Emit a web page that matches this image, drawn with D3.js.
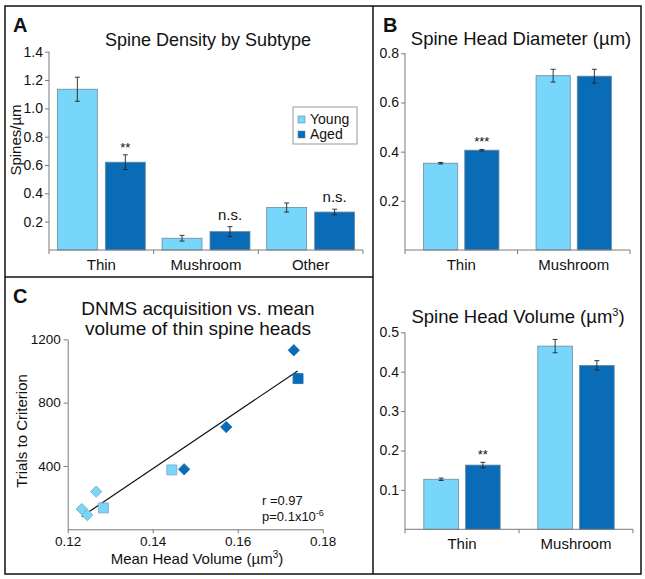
<!DOCTYPE html>
<html>
<head>
<meta charset="utf-8">
<script src="https://cdn.jsdelivr.net/npm/d3@7"></script>
<style>
  body { margin: 0; background: #fff; }
  svg text { font-family: "Liberation Sans", Arial, sans-serif; fill: #111; }
</style>
</head>
<body>
<svg id="chart" width="645" height="579"></svg>
<script>
// ---- data ----
var series = ["Young", "Aged"];
var colors = ["#78d6fa", "#0a6cb7"];

var densityCats = ["Thin", "Mushroom", "Other"];
var densityYoung = [1.135, 0.083, 0.30];
var densityAged = [0.62, 0.13, 0.268];
var densityYoungErr = [0.085, 0.02, 0.032];
var densityAgedErr = [0.052, 0.035, 0.02];
var densitySigAged = ["**", "n.s.", "n.s."];
var densityTicks = [0.2, 0.4, 0.6, 0.8, 1.0, 1.2, 1.4];

var headCats = ["Thin", "Mushroom"];
var diamYoung = [0.353, 0.709];
var diamAged = [0.406, 0.707];
var diamYoungErr = [0.003, 0.026];
var diamAgedErr = [0.003, 0.028];
var diamSigAged = ["***", ""];
var diamTicks = [0.2, 0.4, 0.6, 0.8];

var volYoung = [0.127, 0.465];
var volAged = [0.163, 0.416];
var volYoungErr = [0.003, 0.017];
var volAgedErr = [0.007, 0.012];
var volSigAged = ["**", ""];
var volTicks = [0.1, 0.2, 0.3, 0.4, 0.5];

// scatter: mean head volume vs trials to criterion
var youngDiamonds = [[0.1233, 128], [0.1246, 90], [0.1267, 238]];
var youngSquares = [[0.1284, 135], [0.1445, 375]];
var agedDiamonds = [[0.1474, 379], [0.1573, 646], [0.1732, 1131]];
var agedSquares = [[0.1742, 952]];
var fitLine = [[0.1233, 80], [0.1741, 1000]];
var scatterXTicks = [0.12, 0.14, 0.16, 0.18];
var scatterYTicks = [400, 800, 1200];

var svg = d3.select("#chart");
var axisColor = "#7a7a7a";

// frame and dividers
svg.append("rect").attr("x", 5).attr("y", 6).attr("width", 636).attr("height", 568)
  .attr("fill", "none").attr("stroke", "#111").attr("stroke-width", 1.5);
svg.append("line").attr("x1", 373).attr("x2", 373).attr("y1", 6).attr("y2", 574)
  .attr("stroke", "#111").attr("stroke-width", 1.5);
svg.append("line").attr("x1", 5).attr("x2", 373).attr("y1", 277).attr("y2", 277)
  .attr("stroke", "#111").attr("stroke-width", 1.5);

// panel letters
[["A", 13, 32], ["B", 383, 32], ["C", 13, 303]].forEach(function(p) {
  svg.append("text").attr("x", p[1]).attr("y", p[2]).text(p[0])
    .style("font-size", "20px").style("font-weight", "bold");
});

function styleAxis(g) {
  g.selectAll("path, line").attr("stroke", axisColor);
}

// generic grouped bar chart
function barChart(opt) {
  var g = svg.append("g");
  var x0 = d3.scaleBand().domain(opt.cats).range([opt.left, opt.right])
    .paddingInner(opt.padCat).paddingOuter(opt.padCat / 2);
  var x1 = d3.scaleBand().domain(series).range([0, x0.bandwidth()]).paddingInner(opt.padBar);
  var y = d3.scaleLinear().domain([0, opt.max]).range([opt.bottom, opt.top]);

  var rows = [];
  opt.cats.forEach(function(c, i) {
    rows.push({cat: c, s: "Young", v: opt.young[i], e: opt.youngErr[i], sig: ""});
    rows.push({cat: c, s: "Aged", v: opt.aged[i], e: opt.agedErr[i], sig: opt.sig[i]});
  });

  g.selectAll(".bar").data(rows).enter().append("rect")
    .attr("x", d => x0(d.cat) + x1(d.s))
    .attr("y", d => y(d.v))
    .attr("width", x1.bandwidth())
    .attr("height", d => y(0) - y(d.v))
    .attr("fill", d => colors[series.indexOf(d.s)])
    .attr("stroke", "#6f8a99").attr("stroke-width", 0.8);

  // error bars
  var eb = g.selectAll(".err").data(rows).enter().append("g")
    .attr("transform", d => `translate(${x0(d.cat) + x1(d.s) + x1.bandwidth() / 2},0)`);
  eb.append("line").attr("y1", d => y(d.v - d.e)).attr("y2", d => y(d.v + d.e))
    .attr("stroke", "#222").attr("stroke-width", 0.9);
  eb.append("line").attr("x1", -2.5).attr("x2", 2.5).attr("y1", d => y(d.v + d.e)).attr("y2", d => y(d.v + d.e))
    .attr("stroke", "#222").attr("stroke-width", 0.9);
  eb.append("line").attr("x1", -2.5).attr("x2", 2.5).attr("y1", d => y(d.v - d.e)).attr("y2", d => y(d.v - d.e))
    .attr("stroke", "#222").attr("stroke-width", 0.9);
  eb.filter(d => d.sig).append("text")
    .attr("y", d => y(d.v + d.e) - (d.sig === "n.s." ? 7 : 3))
    .attr("text-anchor", "middle")
    .style("font-size", d => d.sig === "n.s." ? "15px" : "13px")
    .text(d => d.sig);

  // axes
  var yAxis = g.append("g").attr("transform", `translate(${opt.left},0)`)
    .call(d3.axisLeft(y).tickValues(opt.ticks).tickSize(4).tickPadding(2).tickSizeOuter(0).tickFormat(d3.format(".1f")));
  styleAxis(yAxis);
  yAxis.select(".domain").attr("d", `M0,${opt.bottom}V${opt.top}`);
  yAxis.selectAll("text").style("font-size", "14px");

  var xAxis = g.append("g").attr("transform", `translate(0,${opt.bottom})`);
  xAxis.append("line").attr("x1", opt.left).attr("x2", opt.right).attr("stroke", axisColor);
  var bounds = opt.cats.map(c => x0(c) - x0.step() * opt.padCat / 2).concat([opt.right]);
  xAxis.selectAll(".tk").data(bounds).enter().append("line")
    .attr("x1", d => d).attr("x2", d => d).attr("y1", 0).attr("y2", 4).attr("stroke", axisColor);
  xAxis.selectAll(".lbl").data(opt.cats).enter().append("text")
    .attr("x", d => x0(d) + x0.bandwidth() / 2).attr("y", 20)
    .attr("text-anchor", "middle").style("font-size", "15px").text(d => d);
  return g;
}

// Panel A
var gA = barChart({
  cats: densityCats, young: densityYoung, aged: densityAged,
  youngErr: densityYoungErr, agedErr: densityAgedErr, sig: densitySigAged,
  ticks: densityTicks, max: 1.4, left: 49, right: 363, top: 51.7, bottom: 250,
  padCat: 0.16, padBar: 0.167
});
gA.append("text").attr("x", 208).attr("y", 46).attr("text-anchor", "middle")
  .style("font-size", "18px").text("Spine Density by Subtype");
gA.append("text").attr("transform", "translate(21,140) rotate(-90)").attr("text-anchor", "middle")
  .style("font-size", "15px").text("Spines/µm");

// legend
var leg = gA.append("g").attr("transform", "translate(293,107)");
leg.append("rect").attr("width", 64).attr("height", 37).attr("fill", "#fff")
  .attr("stroke", "#999").attr("stroke-width", 1);
series.forEach(function(s, i) {
  leg.append("rect").attr("x", 5).attr("y", 9 + i * 15).attr("width", 7).attr("height", 7)
    .attr("fill", colors[i]).attr("stroke", "#6f8a99").attr("stroke-width", 0.6);
  leg.append("text").attr("x", 17).attr("y", 17 + i * 15).style("font-size", "14px").text(s);
});

// Panel B top
var gD = barChart({
  cats: headCats, young: diamYoung, aged: diamAged,
  youngErr: diamYoungErr, agedErr: diamAgedErr, sig: diamSigAged,
  ticks: diamTicks, max: 0.8, left: 405, right: 630, top: 53.3, bottom: 250,
  padCat: 0.33, padBar: 0.17
});
gD.append("text").attr("x", 521).attr("y", 45).attr("text-anchor", "middle")
  .style("font-size", "18.5px").text("Spine Head Diameter (µm)");

// Panel B bottom
var gV = barChart({
  cats: headCats, young: volYoung, aged: volAged,
  youngErr: volYoungErr, agedErr: volAgedErr, sig: volSigAged,
  ticks: volTicks, max: 0.5, left: 405, right: 633, top: 332.3, bottom: 529.3,
  padCat: 0.33, padBar: 0.17
});
var tV = gV.append("text").attr("x", 518).attr("y", 323).attr("text-anchor", "middle").style("font-size", "18.5px");
tV.append("tspan").text("Spine Head Volume (µm");
tV.append("tspan").attr("dy", -7).style("font-size", "11px").text("3");
tV.append("tspan").attr("dy", 7).text(")");

// Panel C scatter
var gC = svg.append("g");
var xs = d3.scaleLinear().domain([0.12, 0.18]).range([67.7, 322.7]);
var ys = d3.scaleLinear().domain([0, 1200]).range([529.3, 339.3]);

var xAx = gC.append("g").attr("transform", "translate(0,529.3)")
  .call(d3.axisBottom(xs).tickValues(scatterXTicks).tickSize(4).tickSizeOuter(0).tickFormat(d3.format(".2f")));
styleAxis(xAx);
xAx.selectAll("text").style("font-size", "13.5px");
var yAx = gC.append("g").attr("transform", "translate(67.7,0)")
  .call(d3.axisLeft(ys).tickValues(scatterYTicks).tickSize(4).tickSizeOuter(0).tickFormat(d3.format("d")));
styleAxis(yAx);
yAx.selectAll("text").style("font-size", "13.5px");

gC.append("line")
  .attr("x1", xs(fitLine[0][0])).attr("y1", ys(fitLine[0][1]))
  .attr("x2", xs(fitLine[1][0])).attr("y2", ys(fitLine[1][1]))
  .attr("stroke", "#111").attr("stroke-width", 1.2);

function drawPts(pts, shape, fill, stroke) {
  gC.selectAll(null).data(pts).enter().append("path")
    .attr("transform", d => `translate(${xs(d[0])},${ys(d[1])})${shape === "d" ? " rotate(45)" : ""}`)
    .attr("d", shape === "d" ? "M-4,-4H4V4H-4Z" : "M-5,-5H5V5H-5Z")
    .attr("fill", fill).attr("stroke", stroke).attr("stroke-width", 0.8);
}
drawPts(youngDiamonds, "d", colors[0], "#7fa9bd");
drawPts(youngSquares, "s", colors[0], "#7fa9bd");
drawPts(agedDiamonds, "d", colors[1], colors[1]);
drawPts(agedSquares, "s", colors[1], colors[1]);

gC.append("text").attr("x", 198).attr("y", 315).attr("text-anchor", "middle")
  .style("font-size", "19px").text("DNMS acquisition vs. mean");
gC.append("text").attr("x", 198).attr("y", 335).attr("text-anchor", "middle")
  .style("font-size", "19px").text("volume of thin spine heads");
gC.append("text").attr("transform", "translate(27,431) rotate(-90)").attr("text-anchor", "middle")
  .style("font-size", "15px").text("Trials to Criterion");
var xl = gC.append("text").attr("x", 197).attr("y", 564).attr("text-anchor", "middle").style("font-size", "15px");
xl.append("tspan").text("Mean Head Volume (µm");
xl.append("tspan").attr("dy", -6).style("font-size", "10px").text("3");
xl.append("tspan").attr("dy", 6).text(")");

gC.append("text").attr("x", 262).attr("y", 505).style("font-size", "13px").text("r =0.97");
var pt = gC.append("text").attr("x", 262).attr("y", 521).style("font-size", "13px");
pt.append("tspan").text("p=0.1x10");
pt.append("tspan").attr("dy", -5).style("font-size", "9px").text("-6");
</script>
</body>
</html>
